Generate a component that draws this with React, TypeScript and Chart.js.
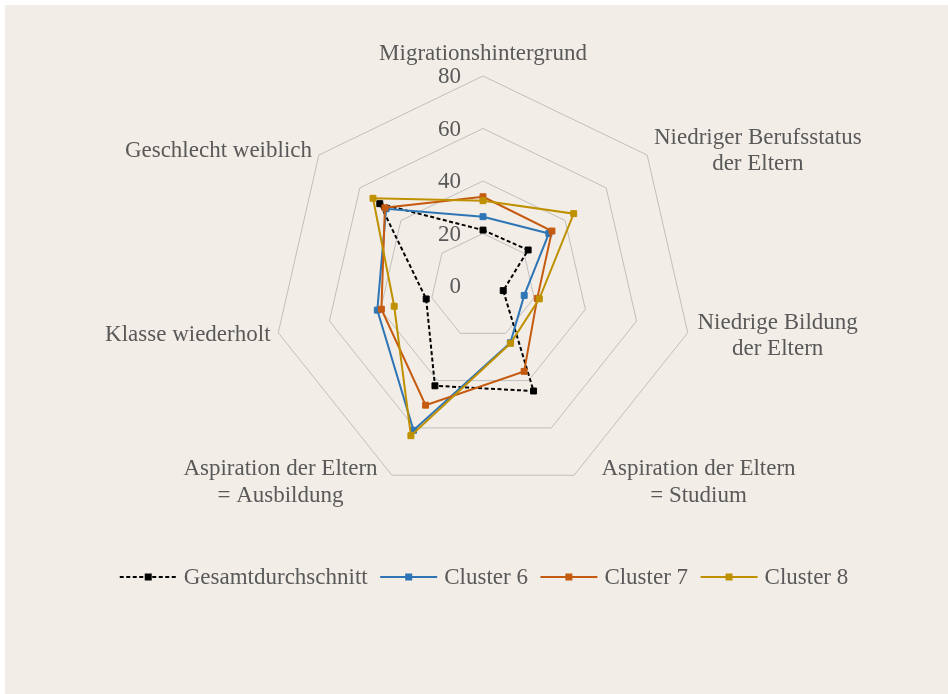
import React, { useEffect, useRef } from "react";
import { Chart, registerables } from "chart.js";

Chart.register(...registerables);

// ---- data ----
const CATEGORIES: (string | string[])[] = [
  "Migrationshintergrund",
  ["Niedriger Berufsstatus", "der Eltern"],
  ["Niedrige Bildung", "der Eltern"],
  ["Aspiration der Eltern", "= Studium"],
  ["Aspiration der Eltern", "= Ausbildung"],
  "Klasse wiederholt",
  "Geschlecht weiblich",
];
const SERIES_NAMES = ["Gesamtdurchschnitt", "Cluster 6", "Cluster 7", "Cluster 8"];
const GESAMT = [21.3, 22.0, 7.9, 44.4, 42.2, 22.2, 50.3];
const CLUSTER_6 = [26.4, 32.1, 16.1, 24.0, 61.0, 41.3, 47.2];
const CLUSTER_7 = [34.0, 33.6, 21.2, 36.1, 50.4, 39.7, 47.8];
const CLUSTER_8 = [32.5, 44.2, 22.0, 24.2, 63.3, 34.7, 53.6];
const TICKS = [0, 20, 40, 60, 80];

// ---- style ----
const TEXT_COLOR = "#595959";
const FONT = '23px "Liberation Serif", "Times New Roman", serif';
const BG = "#F2EEE7";
const LINE_H = 26.5;
// fine offsets of the axis-name blocks (dx, dy), relative to the scale's point position
const LABEL_OFFSETS: [number, number][] = [
  [0, 0],
  [-1, 1],
  [0, 0],
  [23, -3],
  [-10, -3],
  [2, -1],
  [1, 1],
];

const radarText = {
  id: "radarText",
  beforeDatasetsDraw(chart: any) {
    const scale = chart.scales.r;
    const ctx = chart.ctx;
    ctx.save();
    ctx.font = FONT;
    ctx.fillStyle = TEXT_COLOR;
    // tick labels
    ctx.textAlign = "right";
    ctx.textBaseline = "middle";
    TICKS.forEach((v) => {
      const y = scale.yCenter - scale.getDistanceFromCenterForValue(v);
      ctx.fillText(String(v), scale.xCenter - 22, y + 1);
    });
    // point labels
    CATEGORIES.forEach((lab, i) => {
      const lines = Array.isArray(lab) ? lab : [lab];
      const pos = scale.getPointPosition(i, scale.drawingArea + 10);
      const [dx, dy] = LABEL_OFFSETS[i];
      const n = lines.length;
      const widths = lines.map((l) => ctx.measureText(l).width);
      const w = Math.max(...widths);
      let cx: number;
      let cy: number;
      if (Math.abs(pos.x - scale.xCenter) < 1) {
        cx = pos.x + dx;
        cy = pos.y - (n * LINE_H) / 2 + dy;
      } else if (pos.x > scale.xCenter) {
        cx = pos.x + dx + w / 2;
        cy = pos.y + dy;
      } else {
        cx = pos.x + dx - w / 2;
        cy = pos.y + dy;
      }
      ctx.textAlign = "center";
      lines.forEach((l, k) => {
        ctx.fillText(l, cx, cy + 1 + (k - (n - 1) / 2) * LINE_H);
      });
    });
    ctx.restore();
  },
};

const customLegend = {
  id: "customLegend",
  afterDraw(chart: any) {
    const ctx = chart.ctx;
    const ds = chart.data.datasets;
    const lineLen = 57;
    const gapText = 7;
    const gapItem = 12.5;
    const y = 577;
    ctx.save();
    ctx.font = FONT;
    const widths = ds.map((d: any) => ctx.measureText(d.label).width);
    let total = 0;
    widths.forEach((w: number, i: number) => {
      total += lineLen + gapText + w + (i < widths.length - 1 ? gapItem : 0);
    });
    let x = 484 - total / 2;
    ds.forEach((d: any, i: number) => {
      ctx.strokeStyle = d.borderColor;
      ctx.lineWidth = d.borderWidth;
      ctx.setLineDash(d.borderDash || []);
      ctx.beginPath();
      ctx.moveTo(x, y);
      ctx.lineTo(x + lineLen, y);
      ctx.stroke();
      ctx.setLineDash([]);
      ctx.fillStyle = d.pointBackgroundColor;
      ctx.fillRect(x + lineLen / 2 - 3.5, y - 3.5, 7, 7);
      ctx.fillStyle = TEXT_COLOR;
      ctx.textAlign = "left";
      ctx.textBaseline = "middle";
      ctx.fillText(d.label, x + lineLen + gapText, y + 1);
      x += lineLen + gapText + widths[i] + gapItem;
    });
    ctx.restore();
  },
};

function makeDataset(label: string, data: number[], color: string, order: number, dash?: number[]) {
  return {
    label,
    data,
    borderColor: color,
    backgroundColor: color,
    pointBackgroundColor: color,
    pointBorderColor: color,
    borderWidth: 2,
    borderDash: dash,
    pointStyle: "rect",
    pointRadius: 4.2,
    pointBorderWidth: 1,
    pointHoverRadius: 4.2,
    fill: false,
    tension: 0,
    order,
  };
}

export default function App() {
  const ref = useRef<HTMLCanvasElement>(null);
  useEffect(() => {
    if (!ref.current) return;
    const chart = new Chart(ref.current, {
      type: "radar",
      data: {
        labels: CATEGORIES.map((c) => (Array.isArray(c) ? c.join(" ") : c)),
        datasets: [
          makeDataset(SERIES_NAMES[0], GESAMT, "#000000", 4, [4, 2.5]),
          makeDataset(SERIES_NAMES[1], CLUSTER_6, "#2E75B6", 3),
          makeDataset(SERIES_NAMES[2], CLUSTER_7, "#C55A11", 2),
          makeDataset(SERIES_NAMES[3], CLUSTER_8, "#BF9000", 1),
        ] as any,
      },
      options: {
        responsive: false,
        animation: false,
        layout: { padding: { left: 273, right: 255, top: 76, bottom: 198 } },
        plugins: {
          legend: { display: false },
          tooltip: { enabled: false },
        },
        scales: {
          r: {
            min: 0,
            max: 80,
            ticks: { display: false, stepSize: 20 },
            grid: { color: "#BFBFBF", lineWidth: 1, circular: false },
            angleLines: { display: false },
            pointLabels: { display: false },
          },
        },
      },
      plugins: [radarText, customLegend],
    });
    return () => chart.destroy();
  }, []);
  return (
    <div style={{ position: "absolute", left: 0, top: 0, width: 948, height: 694, overflow: "hidden" }}>
      <div style={{ position: "absolute", left: 5, top: 5, width: 943, height: 689, background: BG }} />
      <canvas ref={ref} width={948} height={694} style={{ position: "absolute", left: 0, top: 0, width: 948, height: 694 }} />
    </div>
  );
}
